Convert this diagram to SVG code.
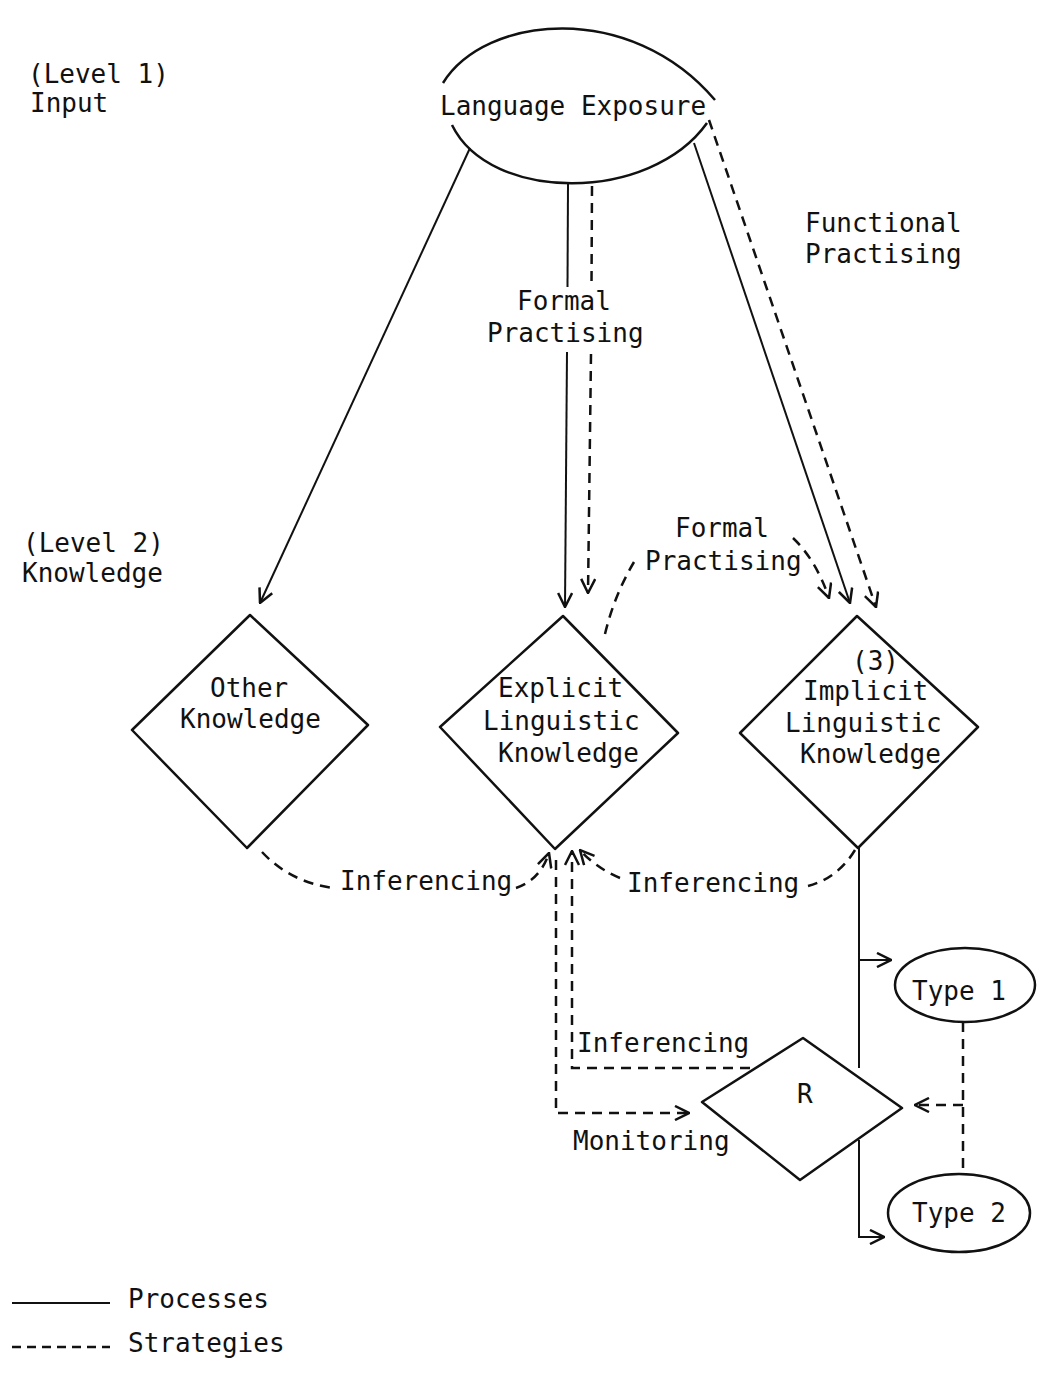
<svg xmlns="http://www.w3.org/2000/svg" width="1045" height="1374" viewBox="0 0 1045 1374">
<style>
  text { font-family: "DejaVu Sans Mono", "Liberation Mono", monospace; font-size: 26px; fill: #111; }
  .shape { fill: none; stroke: #111; stroke-width: 2.5; stroke-linejoin: round; }
  .solid { fill: none; stroke: #111; stroke-width: 2; }
  .dash { fill: none; stroke: #111; stroke-width: 2.5; stroke-dasharray: 10 7; }
</style>
<defs>
  <marker id="arr" viewBox="0 0 16 16" refX="15" refY="8" markerWidth="16" markerHeight="16" markerUnits="userSpaceOnUse" orient="auto">
    <path d="M1,1 L15,8 L1,15" fill="none" stroke="#111" stroke-width="2.5" stroke-dasharray="none"/>
  </marker>
</defs>
<rect width="1045" height="1374" fill="#fff"/>

<g id="labels">
  <text x="28" y="83">(Level 1)</text>
  <text x="30" y="112">Input</text>
  <text x="23" y="552">(Level 2)</text>
  <text x="22" y="582">Knowledge</text>
  <text x="805" y="232">Functional</text>
  <text x="805" y="263">Practising</text>
</g>

<g id="node-language-exposure">
  <path class="shape" d="M443,83 C485,15 630,0 715,100"/>
  <path class="shape" d="M452,125 C490,203 650,203 707,123"/>
  <text x="440" y="115">Language Exposure</text>
</g>

<g id="node-other-knowledge">
  <polygon class="shape" points="250,615 368,725 247,848 132,730"/>
  <text x="210" y="697">Other</text>
  <text x="180" y="728">Knowledge</text>
</g>

<g id="node-explicit">
  <polygon class="shape" points="563,616 678,733 555,849 440,727"/>
  <text x="498" y="697">Explicit</text>
  <text x="483" y="730">Linguistic</text>
  <text x="498" y="762">Knowledge</text>
</g>

<g id="node-implicit">
  <polygon class="shape" points="857,616 978,727 858,848 740,733"/>
  <text x="852" y="670">(3)</text>
  <text x="803" y="700">Implicit</text>
  <text x="785" y="732">Linguistic</text>
  <text x="800" y="763">Knowledge</text>
</g>

<g id="node-r">
  <polygon class="shape" points="803,1038 902,1108 800,1180 702,1102"/>
  <text x="797" y="1103">R</text>
</g>

<g id="node-type1">
  <ellipse class="shape" cx="965" cy="985" rx="70" ry="37"/>
  <text x="912" y="1000">Type 1</text>
</g>

<g id="node-type2">
  <ellipse class="shape" cx="959" cy="1213" rx="71" ry="39"/>
  <text x="912" y="1222">Type 2</text>
</g>

<g id="connectors">
  <!-- from Language Exposure -->
  <path class="solid" d="M470,148 L260,603" marker-end="url(#arr)"/>
  <path class="solid" d="M568,184 L567.5,287"/>
  <path class="solid" d="M567,352 L565,607" marker-end="url(#arr)"/>
  <path class="dash" d="M592,186 L591.5,287"/>
  <path class="dash" d="M591,354 L588,593" marker-end="url(#arr)"/>
  <path class="solid" d="M694,143 L850,603" marker-end="url(#arr)"/>
  <path class="dash" d="M709,120 L876,607" marker-end="url(#arr)"/>
  <text x="517" y="310">Formal</text>
  <text x="487" y="342">Practising</text>

  <!-- Explicit -> Implicit formal practising -->
  <path class="dash" d="M605,634 Q614,596 634,562"/>
  <path class="dash" d="M793,538 Q816,560 829,598" marker-end="url(#arr)"/>
  <text x="675" y="537">Formal</text>
  <text x="645" y="570">Practising</text>

  <!-- Other -> Explicit inferencing -->
  <path class="dash" d="M262,852 Q290,882 333,888"/>
  <path class="dash" d="M516,888 Q540,880 549,853" marker-end="url(#arr)"/>
  <text x="340" y="890">Inferencing</text>

  <!-- Implicit -> Explicit inferencing -->
  <path class="dash" d="M855,850 Q838,878 808,886"/>
  <path class="dash" d="M620,878 Q596,868 580,850" marker-end="url(#arr)"/>
  <text x="627" y="892">Inferencing</text>

  <!-- R -> Explicit inferencing -->
  <path class="dash" d="M750,1068 L572,1068 L572,851" marker-end="url(#arr)"/>
  <text x="577" y="1052">Inferencing</text>

  <!-- Explicit -> R monitoring -->
  <path class="dash" d="M556,860 L556,1113 L689,1113" marker-end="url(#arr)"/>
  <text x="573" y="1150">Monitoring</text>

  <!-- Implicit -> Type 1 / R -> Type 2 -->
  <path class="solid" d="M859,848 L859,1068"/>
  <path class="solid" d="M859,960 L891,960" marker-end="url(#arr)"/>
  <path class="solid" d="M859,1140 L859,1237 L884,1237" marker-end="url(#arr)"/>

  <!-- Type 1 / Type 2 -> R -->
  <path class="dash" d="M963,1022 L963,1175"/>
  <path class="dash" d="M963,1105 L915,1105" marker-end="url(#arr)"/>
</g>

<g id="legend">
  <line class="solid" x1="12" y1="1303" x2="110" y2="1303"/>
  <text x="128" y="1308">Processes</text>
  <line class="dash" x1="12" y1="1347" x2="110" y2="1347" style="stroke-dasharray:9 6"/>
  <text x="128" y="1352">Strategies</text>
</g>
</svg>
